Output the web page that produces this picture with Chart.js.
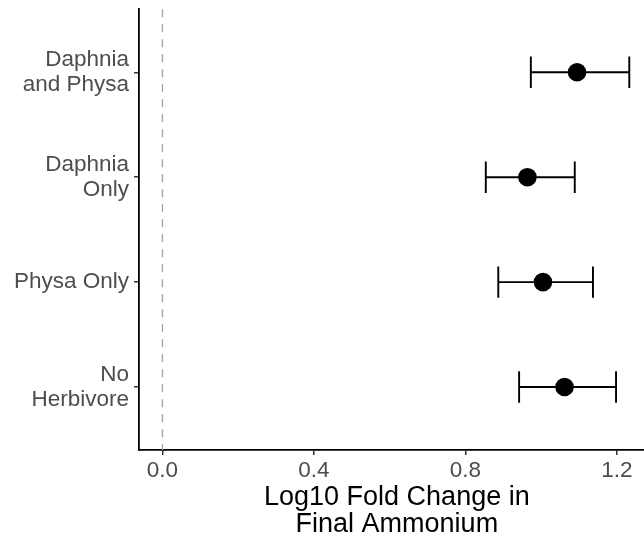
<!DOCTYPE html>
<html><head><meta charset="utf-8">
<style>
html,body{margin:0;padding:0;overflow:hidden;background:#fff;width:644px;height:539px}
#wrap{position:relative;width:664px;height:539px}
canvas{display:block}
</style>
<script src="https://cdn.jsdelivr.net/npm/chart.js@4"></script>
</head><body><div id="wrap"><canvas id="c" width="664" height="539"></canvas></div>
<script>
const categories = ["Daphnia and Physa", "Daphnia Only", "Physa Only", "No Herbivore"];
const yTickLabels = [["Daphnia", "and Physa"], ["Daphnia", "Only"], ["Physa Only"], ["No", "Herbivore"]];
const means = [1.095, 0.964, 1.005, 1.062];
const lower = [0.973, 0.854, 0.887, 0.942];
const upper = [1.233, 1.089, 1.137, 1.198];
const xTicks = [0, 0.4, 0.8, 1.2];
const xTitle = ["Log10 Fold Change in", "Final Ammonium"];
const refLine = 0;

const FONT = "'Liberation Sans', Arial, Helvetica, sans-serif";

const points = categories.map((c, i) => ({x: means[i], y: i + 1}));

const errorBars = {
  id: 'errorBars',
  beforeDatasetsDraw(chart) {
    const {ctx, scales: {x, y}, chartArea} = chart;
    ctx.save();
    ctx.strokeStyle = '#a6a6a6';
    ctx.lineWidth = 1.4;
    ctx.setLineDash([8, 7]);
    const x0 = x.getPixelForValue(refLine);
    ctx.beginPath();
    ctx.moveTo(x0, chartArea.top);
    ctx.lineTo(x0, chartArea.bottom);
    ctx.stroke();
    ctx.setLineDash([]);
    ctx.strokeStyle = '#000';
    ctx.lineWidth = 1.9;
    categories.forEach((c, i) => {
      const yc = y.getPixelForValue(i + 1);
      const yt = y.getPixelForValue(i + 1 - 0.15);
      const yb = y.getPixelForValue(i + 1 + 0.15);
      const xl = x.getPixelForValue(lower[i]);
      const xr = x.getPixelForValue(upper[i]);
      ctx.beginPath();
      ctx.moveTo(xl, yc); ctx.lineTo(xr, yc);
      ctx.moveTo(xl, yt); ctx.lineTo(xl, yb);
      ctx.moveTo(xr, yt); ctx.lineTo(xr, yb);
      ctx.stroke();
    });
    ctx.restore();
  }
};

new Chart(document.getElementById('c'), {
  type: 'scatter',
  data: {
    datasets: [{
      data: points,
      backgroundColor: '#000',
      borderColor: '#000',
      borderWidth: 0,
      pointRadius: 9.3,
      pointHoverRadius: 9.3
    }]
  },
  options: {
    responsive: false,
    animation: false,
    devicePixelRatio: 1,
    layout: {padding: {top: 7, right: 8, left: 0, bottom: 0}},
    plugins: {legend: {display: false}, tooltip: {enabled: false}},
    scales: {
      x: {
        type: 'linear',
        min: -0.0619,
        max: 1.3001,
        afterBuildTicks: s => { s.ticks = xTicks.map(v => ({value: v})); },
        afterFit: s => { s.height = 89; s.paddingLeft = 0; s.paddingRight = 0; },
        ticks: {
          color: '#4d4d4d',
          font: {family: FONT, size: 22.5},
          padding: 2,
          maxRotation: 0,
          callback: v => Number(v).toFixed(1)
        },
        grid: {drawOnChartArea: false, drawTicks: true, tickLength: 5, color: '#333', lineWidth: 1.5},
        border: {display: true, color: '#000', width: 1.8},
        title: {
          display: true,
          text: xTitle,
          color: '#000',
          font: {family: FONT, size: 27, lineHeight: 1.0},
          padding: {top: 0, bottom: 1}
        }
      },
      y: {
        type: 'linear',
        min: 0.4,
        max: 4.6,
        reverse: true,
        afterBuildTicks: s => { s.ticks = categories.map((c, i) => ({value: i + 1})); },
        afterFit: s => { s.width = 139; s.paddingTop = 0; s.paddingBottom = 0; },
        ticks: {
          color: '#4d4d4d',
          font: {family: FONT, size: 22.5, lineHeight: 1.1},
          padding: 5,
          callback: (v, i) => yTickLabels[i]
        },
        grid: {drawOnChartArea: false, drawTicks: true, tickLength: 5, color: '#333', lineWidth: 1.5},
        border: {display: true, color: '#000', width: 1.8}
      }
    }
  },
  plugins: [errorBars]
});
</script>
</body></html>
